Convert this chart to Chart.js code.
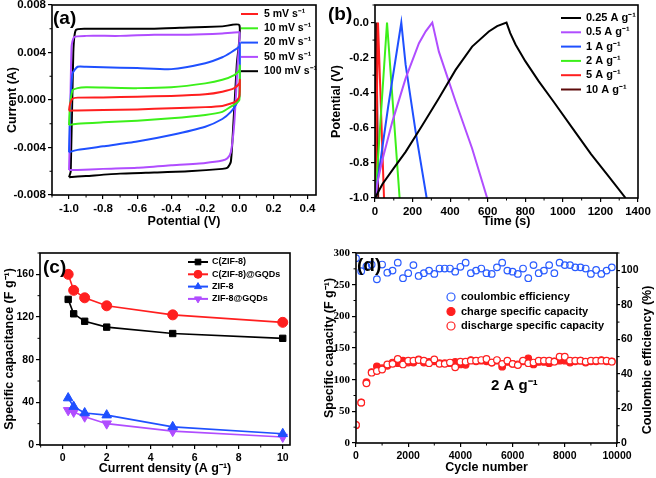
<!DOCTYPE html>
<html>
<head>
<meta charset="utf-8">
<script src="https://cdn.jsdelivr.net/npm/chart.js@4.4.0/dist/chart.umd.min.js"></script>
<style>
  body { margin: 0; background: #fff; width: 656px; height: 478px; position: relative; overflow: hidden; }
  canvas { position: absolute; }
</style>
</head>
<body>
<canvas id="cvChart" width="328" height="238" style="left:0;top:0"></canvas>
<canvas id="gcdChart" width="328" height="238" style="left:328px;top:0"></canvas>
<canvas id="rateChart" width="318" height="240" style="left:0;top:238px"></canvas>
<canvas id="cycleChart" width="338" height="240" style="left:318px;top:238px"></canvas>
<script>
// (a) cyclic voltammetry at several scan rates
const scanRates = ['5 mV s⁻¹', '10 mV s⁻¹', '20 mV s⁻¹', '50 mV s⁻¹', '100 mV s⁻¹'];
const cvColors = ['#ff1f1f', '#3cf01a', '#1f50ff', '#b04dff', '#000000'];
const cv5Potential = [-1.0, -0.995, -0.98, -0.95, -0.8, -0.6, -0.4, -0.2, -0.1, -0.03, 0.0, 0.003, 0.0, -0.02, -0.05, -0.1, -0.2, -0.4, -0.6, -0.8, -0.95, -0.995, -1.0];
const cv5Current = [-0.0009, -0.0004, 0.0001, 0.0002, 0.00022, 0.00028, 0.00034, 0.00048, 0.0007, 0.001, 0.0014, 0.0017, 0.0003, -0.0001, -0.0003, -0.0005, -0.0006, -0.0007, -0.00079, -0.00084, -0.00088, -0.0009, -0.0009];
const cv10Potential = [-1.0, -0.995, -0.98, -0.95, -0.9, -0.8, -0.6, -0.4, -0.2, -0.1, -0.03, 0.0, 0.003, 0.0, -0.02, -0.05, -0.1, -0.2, -0.4, -0.6, -0.8, -0.95, -1.0];
const cv10Current = [-0.0021, -0.0006, 0.0008, 0.001, 0.00107, 0.00105, 0.001, 0.00107, 0.0014, 0.0017, 0.0021, 0.0025, 0.0029, 0.0, -0.0003, -0.00056, -0.001, -0.00126, -0.00154, -0.00174, -0.00188, -0.002, -0.0021];
const cv20Potential = [-1.0, -0.995, -0.98, -0.95, -0.9, -0.8, -0.6, -0.4, -0.2, -0.1, -0.05, 0.0, 0.003, 0.0, -0.02, -0.05, -0.1, -0.2, -0.4, -0.6, -0.8, -0.95, -1.0];
const cv20Current = [-0.0044, -0.0015, 0.0022, 0.0028, 0.0028, 0.00275, 0.0027, 0.0026, 0.0031, 0.0036, 0.004, 0.0045, 0.0048, 0.0003, -0.0004, -0.001, -0.0016, -0.00225, -0.00295, -0.0035, -0.0039, -0.0042, -0.0044];
const cv50Potential = [-1.0, -0.995, -0.985, -0.97, -0.9, -0.7, -0.5, -0.3, -0.1, 0.0, 0.002, -0.01, -0.03, -0.05, -0.07, -0.1, -0.2, -0.4, -0.6, -0.8, -0.95, -1.0];
const cv50Current = [-0.0059, -0.003, 0.0045, 0.0053, 0.0054, 0.0054, 0.0055, 0.0055, 0.0056, 0.0057, 0.0054, 0.003, -0.002, -0.0044, -0.0049, -0.0051, -0.0053, -0.0055, -0.0057, -0.0058, -0.0059, -0.0059];
const cv100Potential = [-1.0, -0.99, -0.975, -0.96, -0.9, -0.7, -0.5, -0.3, -0.1, 0.0, -0.015, -0.035, -0.05, -0.07, -0.1, -0.3, -0.5, -0.7, -0.9, -1.0];
const cv100Current = [-0.0065, -0.006, 0.004, 0.0059, 0.006, 0.006, 0.006, 0.0061, 0.0062, 0.0063, 0.003, -0.002, -0.0052, -0.0057, -0.0058, -0.006, -0.0061, -0.0062, -0.0064, -0.0065];
const cvPotentialTicks = [-1.0, -0.8, -0.6, -0.4, -0.2, 0.0, 0.2, 0.4];
const cvCurrentTicks = [-0.008, -0.004, 0, 0.004, 0.008];

// (b) galvanostatic charge/discharge
const currentLabels = ['0.25 A g⁻¹', '0.5 A g⁻¹', '1 A g⁻¹', '2 A g⁻¹', '5 A g⁻¹', '10 A g⁻¹'];
const gcdColors = ['#000000', '#b04dff', '#1f50ff', '#3cf01a', '#ff1f1f', '#5c0a0a'];
const gcd025Time = [0, 20, 40, 100, 163, 252, 340, 429, 517, 606, 650, 700, 720, 748, 800, 872, 950, 1050, 1150, 1250, 1334];
const gcd025Potential = [-1.0, -0.96, -0.92, -0.83, -0.737, -0.585, -0.432, -0.27, -0.137, -0.051, -0.02, 0.0, -0.06, -0.125, -0.22, -0.335, -0.45, -0.6, -0.75, -0.885, -1.0];
const gcd05Time = [0, 15, 40, 92, 163, 234, 270, 305, 340, 429, 517, 597];
const gcd05Potential = [-1.0, -0.9, -0.78, -0.566, -0.318, -0.118, -0.05, 0.0, -0.166, -0.45, -0.718, -1.0];
const gcd1Time = [0, 5, 70, 140, 163, 216, 275];
const gcd1Potential = [-1.0, -0.97, -0.48, 0.0, -0.24, -0.62, -1.0];
const gcd2Time = [0, 4, 64, 131];
const gcd2Potential = [-1.0, -0.97, 0.0, -1.0];
const gcd5Time = [0, 3, 16, 48];
const gcd5Potential = [-1.0, -0.96, 0.0, -1.0];
const gcd10Time = [0, 7, 17];
const gcd10Potential = [-1.0, 0.0, -1.0];
const gcdTimeTicks = [0, 200, 400, 600, 800, 1000, 1200, 1400];
const gcdPotentialTicks = [-1.0, -0.8, -0.6, -0.4, -0.2, 0.0];

// (c) rate capability
const materials = ['C(ZIF-8)', 'C(ZIF-8)@GQDs', 'ZIF-8', 'ZIF-8@GQDs'];
const currentDensity = [0.25, 0.5, 1, 2, 5, 10];
const capCZIF8 = [136.5, 123, 116, 110.5, 104.5, 100];
const capCZIF8GQD = [160, 145, 138, 130.5, 122, 115];
const capZIF8 = [44, 36, 30, 28, 17, 10.5];
const capZIF8GQD = [32.5, 31, 26.5, 20, 13, 7.5];
const densityTicks = [0, 2, 4, 6, 8, 10];
const capacitanceTicks = [0, 40, 80, 120, 160];

// (d) cycling at 2 A g-1
const cycleNumber = [0, 200, 400, 600, 800, 1000, 1200, 1400, 1600, 1800, 2000, 2200, 2400, 2600, 2800, 3000, 3200, 3400, 3600, 3800,
  4000, 4200, 4400, 4600, 4800, 5000, 5200, 5400, 5600, 5800, 6000, 6200, 6400, 6600, 6800, 7000, 7200, 7400, 7600, 7800,
  8000, 8200, 8400, 8600, 8800, 9000, 9200, 9400, 9600, 9800];
const coulombicEff = [107, 99.5, 102.3, 103.3, 94.8, 103.3, 98.6, 99.8, 104.4, 95.4, 98.3, 103, 96.7, 98.3, 99.8, 97.9, 101, 101, 101, 99.2,
  102, 104.4, 98.3, 99.8, 101, 98.3, 97.9, 101.7, 104.4, 99.8, 99.2, 97.9, 101, 95.4, 103, 98.3, 99.8, 103, 98.3, 104.4,
  103, 103, 101.7, 101.7, 101, 97.9, 100.2, 97.9, 99.8, 101.7];
const chargeCap = [28, 64, 96, 112, 121, 118, 122, 127, 126, 130, 127, 127, 132, 127, 128, 129, 126, 126, 126, 128,
  124, 123.5, 131, 129, 130, 129, 127, 130, 120.5, 128, 125, 124, 129, 133.7, 124, 128, 128, 126, 129, 130,
  130, 127, 129, 130, 127, 129, 129, 131, 129, 129];
const dischargeCap = [28.4, 63.7, 94.2, 111, 113.7, 116, 124, 125, 132.6, 124, 130, 130, 131, 130, 126, 132, 125, 125, 127, 119.5,
  128.4, 128.4, 130, 130, 131, 132.6, 127, 131, 125, 130, 125, 123, 130, 126, 127, 130, 130, 130, 128.4, 136.3,
  136.3, 130, 130, 130, 128.4, 130, 130, 130, 130, 128.4];
const cycleTicks = [0, 2000, 4000, 6000, 8000, 10000];
const capacityTicks = [0, 50, 100, 150, 200, 250, 300];
const efficiencyTicks = [0, 20, 40, 60, 80, 100];

const FONT = "'Liberation Sans', Arial, Helvetica, sans-serif";
const SERIF = "'Liberation Serif', 'Times New Roman', serif";

function pairs(xs, ys) {
    return xs.map((x, i) => ({ x: x, y: ys[i] }));
}

// linear axis with fixed ticks and fixed box size
function axis(pos, min, max, ticks, size, fmt, extra) {
    extra = extra || {};
    return {
        type: 'linear',
        position: pos,
        min: min,
        max: max,
        afterBuildTicks: function (s) { s.ticks = ticks.map(v => ({ value: v })); },
        afterFit: function (s) {
            if (pos === 'bottom') s.height = size; else s.width = size;
            s.paddingLeft = s.paddingRight = s.paddingTop = s.paddingBottom = 0;
        },
        grid: { drawOnChartArea: false, drawTicks: true, tickLength: extra.tickLength || 4, color: '#000', lineWidth: 1.2 },
        border: { display: false },
        ticks: {
            color: '#000', autoSkip: false, maxRotation: 0,
            padding: extra.pad === undefined ? 2 : extra.pad,
            font: { family: extra.family || FONT, weight: 'bold', size: extra.tickSize || 11 },
            callback: fmt
        },
        title: {
            display: !!extra.title, text: extra.title, color: '#000',
            font: { family: FONT, weight: 'bold', size: 12.5 },
            padding: extra.titlePad || { top: 4, bottom: 4 }
        }
    };
}

function baseOptions(pad, scales, notes) {
    return {
        responsive: false,
        animation: false,
        events: [],
        layout: { padding: pad, autoPadding: false },
        scales: scales,
        plugins: { legend: { display: false }, tooltip: { enabled: false }, notes: notes }
    };
}

// box around the plot area
const framePlugin = {
    id: 'frame',
    afterDatasetsDraw(chart) {
        const a = chart.chartArea, ctx = chart.ctx;
        ctx.save();
        ctx.strokeStyle = '#000';
        ctx.lineWidth = 1.6;
        ctx.strokeRect(a.left, a.top, a.right - a.left, a.bottom - a.top);
        ctx.restore();
    }
};

// small outward ticks halfway between the labelled ones
const minorPlugin = {
    id: 'minor',
    afterDraw(chart) {
        const ctx = chart.ctx;
        ctx.save();
        ctx.strokeStyle = '#000';
        ctx.lineWidth = 1;
        Object.values(chart.scales).forEach(s => {
            const vals = s.ticks.map(t => t.value);
            if (vals.length < 2) return;
            const step = vals[1] - vals[0];
            for (let v = vals[0] - step / 2; v <= s.max + 1e-9; v += step) {
                if (v < s.min - 1e-9) continue;
                const p = s.getPixelForValue(v);
                ctx.beginPath();
                if (s.position === 'left') { ctx.moveTo(s.right, p); ctx.lineTo(s.right - 2.5, p); }
                else if (s.position === 'right') { ctx.moveTo(s.left, p); ctx.lineTo(s.left + 2.5, p); }
                else { ctx.moveTo(p, s.top); ctx.lineTo(p, s.top + 2.5); }
                ctx.stroke();
            }
        });
        ctx.restore();
    }
};

// panel letters, annotations and the in-plot legend
const notesPlugin = {
    id: 'notes',
    afterDraw(chart, args, opts) {
        const ctx = chart.ctx;
        ctx.save();
        (opts.texts || []).forEach(t => {
            ctx.save();
            ctx.fillStyle = '#000';
            ctx.font = 'bold ' + t.size + 'px ' + FONT;
            ctx.textAlign = t.align || 'left';
            ctx.textBaseline = 'middle';
            ctx.translate(t.x, t.y);
            if (t.rotate) ctx.rotate(t.rotate);
            ctx.fillText(t.text, 0, 0);
            ctx.restore();
        });
        const L = opts.legend;
        if (L) {
            ctx.font = 'bold ' + L.size + 'px ' + FONT;
            ctx.textAlign = 'left';
            ctx.textBaseline = 'middle';
            chart.data.datasets.forEach((ds, i) => {
                const y = L.y + i * L.dy;
                const len = L.line || 0;
                if (len) {
                    ctx.strokeStyle = ds.borderColor;
                    ctx.lineWidth = 2;
                    ctx.beginPath();
                    ctx.moveTo(L.x, y);
                    ctx.lineTo(L.x + len, y);
                    ctx.stroke();
                }
                if (L.marker) {
                    ctx.fillStyle = ds.pointBackgroundColor;
                    ctx.strokeStyle = ds.pointBorderColor;
                    ctx.lineWidth = ds.pointBorderWidth || 1;
                    Chart.helpers.drawPoint(ctx, {
                        pointStyle: ds.pointStyle, rotation: ds.pointRotation || 0,
                        radius: L.radius || ds.pointRadius, borderWidth: ds.pointBorderWidth || 1
                    }, L.x + len / 2, y);
                }
                ctx.fillStyle = '#000';
                ctx.fillText(ds.label, L.x + len + L.gap, y);
            });
        }
        ctx.restore();
    }
};

const plugins = [framePlugin, minorPlugin, notesPlugin];

function curve(label, color, xs, ys, tension) {
    return {
        label: label, data: pairs(xs, ys), showLine: true, borderColor: color, backgroundColor: color,
        borderWidth: 2, pointRadius: 0, tension: tension, fill: false
    };
}

// ---- (a)
const cvSeries = [
    [cv5Potential, cv5Current], [cv10Potential, cv10Current], [cv20Potential, cv20Current],
    [cv50Potential, cv50Current], [cv100Potential, cv100Current]
];
new Chart(document.getElementById('cvChart'), {
    type: 'scatter',
    data: { datasets: cvSeries.map((s, i) => curve(scanRates[i], cvColors[i], s[0], s[1], 0.2)) },
    options: baseOptions({ top: 5, right: 12, left: 0, bottom: 0 }, {
        x: axis('bottom', -1.1, 0.45, cvPotentialTicks, 43, v => v.toFixed(1),
            { tickSize: 11.5, pad: 3, title: 'Potential (V)', titlePad: { top: 0, bottom: 8.5 } }),
        y: axis('left', -0.008, 0.008, cvCurrentTicks, 52, v => v.toFixed(3),
            { tickSize: 11.5, pad: 2, title: 'Current (A)', titlePad: { top: 5, bottom: 0 } })
    }, {
        texts: [{ text: '(a)', x: 53, y: 19, size: 19 }],
        legend: { x: 241, y: 14, dy: 14.3, line: 17, gap: 6, size: 10.5 }
    }),
    plugins: plugins
});

// ---- (b)
const gcdSeries = [
    [gcd025Time, gcd025Potential], [gcd05Time, gcd05Potential], [gcd1Time, gcd1Potential],
    [gcd2Time, gcd2Potential], [gcd5Time, gcd5Potential], [gcd10Time, gcd10Potential]
];
new Chart(document.getElementById('gcdChart'), {
    type: 'scatter',
    data: { datasets: gcdSeries.map((s, i) => curve(currentLabels[i], gcdColors[i], s[0], s[1], 0)) },
    options: baseOptions({ top: 5, right: 18, left: 0, bottom: 0 }, {
        x: axis('bottom', 0, 1400, gcdTimeTicks, 40, v => String(v),
            { tickSize: 11.5, pad: 3, title: 'Time (s)', titlePad: { top: 0, bottom: 8.5 } }),
        y: axis('left', -1.0, 0.1, gcdPotentialTicks, 47, v => v.toFixed(1),
            { tickSize: 11.5, pad: 2, title: 'Potential (V)', titlePad: { top: 1.5, bottom: 0 } })
    }, {
        texts: [{ text: '(b)', x: 0, y: 15, size: 19 }],
        legend: { x: 233, y: 18, dy: 14.3, line: 20, gap: 5, size: 11 }
    }),
    plugins: plugins
});

// ---- (c)
const rateSeries = [capCZIF8, capCZIF8GQD, capZIF8, capZIF8GQD];
const rateColors = ['#000000', '#ff1f1f', '#1f50ff', '#b04dff'];
const rateMarkers = [['rect', 4.5, 0], ['circle', 5, 0], ['triangle', 5.5, 0], ['triangle', 5.5, 180]];
new Chart(document.getElementById('rateChart'), {
    type: 'scatter',
    data: {
        datasets: rateSeries.map((vals, i) => ({
            label: materials[i], data: pairs(currentDensity, vals), showLine: true,
            borderColor: rateColors[i], backgroundColor: rateColors[i], borderWidth: 1.6,
            pointStyle: rateMarkers[i][0], pointRadius: rateMarkers[i][1], pointRotation: rateMarkers[i][2],
            pointBackgroundColor: rateColors[i], pointBorderColor: rateColors[i], pointBorderWidth: 1
        }))
    },
    options: baseOptions({ top: 15, right: 28, left: 0, bottom: 0 }, {
        x: axis('bottom', -1.03, 10.33, densityTicks, 33, v => String(v),
            { tickSize: 10.5, pad: 3, title: 'Current density (A g⁻¹)', titlePad: { top: 0, bottom: 1.5 } }),
        y: axis('left', 0, 180, capacitanceTicks, 40, v => String(v),
            { tickSize: 10.5, pad: 2, title: 'Specific capacitance (F g⁻¹)', titlePad: { top: 2.5, bottom: 0 } })
    }, {
        texts: [{ text: '(c)', x: 43, y: 30, size: 19 }],
        legend: { x: 188, y: 24, dy: 12.3, line: 20, marker: true, radius: 4, gap: 4, size: 9 }
    }),
    plugins: plugins
});

// ---- (d)
new Chart(document.getElementById('cycleChart'), {
    type: 'scatter',
    data: {
        datasets: [
            { label: 'coulombic efficiency', data: pairs(cycleNumber, coulombicEff), yAxisID: 'y1', order: 2,
              pointStyle: 'circle', pointRadius: 3.3, pointBorderWidth: 1.2,
              pointBackgroundColor: 'rgba(255,255,255,0)', pointBorderColor: '#2a5cff', borderColor: '#2a5cff' },
            { label: 'charge specific capacity', data: pairs(cycleNumber, chargeCap), yAxisID: 'y', order: 1,
              pointStyle: 'circle', pointRadius: 3.3, pointBorderWidth: 1.2,
              pointBackgroundColor: '#ff1f1f', pointBorderColor: '#ff1f1f', borderColor: '#ff1f1f' },
            { label: 'discharge specific capacity', data: pairs(cycleNumber, dischargeCap), yAxisID: 'y', order: 0,
              pointStyle: 'circle', pointRadius: 3.3, pointBorderWidth: 1.2,
              pointBackgroundColor: '#ffffff', pointBorderColor: '#ff1f1f', borderColor: '#ff1f1f' }
        ]
    },
    options: baseOptions({ top: 15, right: 0, left: 0, bottom: 0 }, {
        x: axis('bottom', 0, 10000, cycleTicks, 35, v => String(v),
            { tickSize: 10.5, pad: 3, title: 'Cycle number', titlePad: { top: 0, bottom: 2.5 } }),
        y: axis('left', 0, 300, capacityTicks, 38, v => String(v),
            { tickSize: 11, pad: 2, family: SERIF, title: 'Specific capacity (F g⁻¹)', titlePad: { top: 4.5, bottom: 0 } }),
        y1: axis('right', 0, 110, efficiencyTicks, 39, v => String(v),
            { tickSize: 10.5, tickLength: 3, pad: 1 })
    }, {
        texts: [
            { text: '(d)', x: 39, y: 28, size: 19 },
            { text: '2 A g⁻¹', x: 173, y: 148, size: 15 },
            { text: 'Coulombic efficiency (%)', x: 330, y: 122, size: 12.5, align: 'center', rotate: -Math.PI / 2 }
        ],
        legend: { x: 133, y: 59, dy: 14.5, marker: true, radius: 4, gap: 10, size: 11 }
    }),
    plugins: plugins
});
</script>
</body>
</html>
